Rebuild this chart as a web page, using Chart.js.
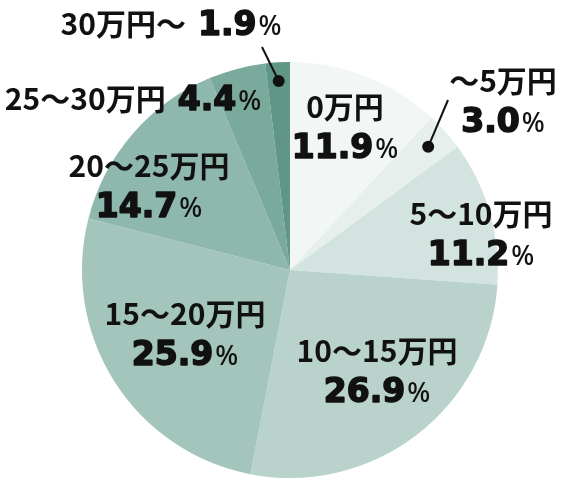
<!DOCTYPE html>
<html>
<head>
<meta charset="utf-8">
<script src="https://cdn.jsdelivr.net/npm/chart.js@4/dist/chart.umd.min.js"></script>
<style>
html,body{margin:0;padding:0;background:#fff;}
#wrap{width:582px;height:480px;position:relative;}
</style>
</head>
<body>
<div id="wrap"><canvas id="c" width="582" height="480"></canvas></div>
<script>
// Data
const categories = ["0万円", "～5万円", "5～10万円", "10～15万円", "15～20万円", "20～25万円", "25～30万円", "30万円～"];
const shares = [11.9, 3.0, 11.2, 26.9, 25.9, 14.7, 4.4, 1.9];
const valueLabels = ["11.9", "3.0", "11.2", "26.9", "25.9", "14.7", "4.4", "1.9"];
const sliceColors = ["#f2f6f5", "#e6efec", "#d3e3df", "#b9d3cc", "#a3c5bc", "#8eb8ad", "#79aa9c", "#5f9686"];

// Label layout: [centerX, baseline of first line, two-line?]
const labelLayout = [
  {x: 345, y: 118, lines: 2},
  {x: 503, y: 92, lines: 2, leader: {x: 448, y: 100, r: 0.89}},
  {x: 481, y: 225, lines: 2},
  {x: 377, y: 362, lines: 2},
  {x: 185, y: 325, lines: 2},
  {x: 149, y: 177, lines: 2},
  {x: 133, y: 110, lines: 1},
  {x: 171, y: 35, lines: 1, leader: {x: 262, y: 47, r: 0.91}}
];

const catFont = '700 30px "Noto Sans CJK JP", "Noto Sans", sans-serif';
const numFont = 'bold 33px "DejaVu Sans", sans-serif';
const pctFont = '500 27px "Noto Sans", "Noto Sans CJK JP", sans-serif';
const LINE_GAP = 40;

function heavyText(ctx, t, x, y) {
  ctx.fillText(t, x, y);
  ctx.lineWidth = 1.6;
  ctx.lineJoin = 'round';
  ctx.strokeText(t, x, y);
}

const labelPlugin = {
  id: 'labels',
  afterDatasetsDraw(chart) {
    const ctx = chart.ctx;
    const meta = chart.getDatasetMeta(0);
    ctx.save();
    ctx.fillStyle = '#111';
    ctx.strokeStyle = '#111';
    ctx.textBaseline = 'alphabetic';
    labelLayout.forEach((L, i) => {
      const cat = categories[i];
      const num = valueLabels[i];
      ctx.font = catFont; const wc = ctx.measureText(cat).width;
      ctx.font = numFont; const wn = ctx.measureText(num).width;
      ctx.font = pctFont; const wp = ctx.measureText('%').width;
      const gapP = 2;
      ctx.textAlign = 'left';
      if (L.lines === 2) {
        ctx.font = catFont;
        ctx.fillText(cat, L.x - wc / 2, L.y);
        const tw = wn + gapP + wp;
        let x0 = L.x - tw / 2;
        ctx.font = numFont; heavyText(ctx, num, x0, L.y + LINE_GAP);
        ctx.font = pctFont; ctx.fillText('%', x0 + wn + gapP, L.y + LINE_GAP);
      } else {
        const sp = 12;
        const tw = wc + sp + wn + gapP + wp;
        let x0 = L.x - tw / 2;
        ctx.font = catFont; ctx.fillText(cat, x0, L.y);
        ctx.font = numFont; heavyText(ctx, num, x0 + wc + sp, L.y);
        ctx.font = pctFont; ctx.fillText('%', x0 + wc + sp + wn + gapP, L.y);
      }
      if (L.leader) {
        const arc = meta.data[i];
        const p = arc.getProps(['x', 'y', 'startAngle', 'endAngle', 'outerRadius'], true);
        const mid = (p.startAngle + p.endAngle) / 2;
        const dx = p.x + Math.cos(mid) * p.outerRadius * L.leader.r;
        const dy = p.y + Math.sin(mid) * p.outerRadius * L.leader.r;
        ctx.lineWidth = 2;
        ctx.beginPath();
        ctx.moveTo(L.leader.x, L.leader.y);
        ctx.lineTo(dx, dy);
        ctx.stroke();
        ctx.beginPath();
        ctx.arc(dx, dy, 6, 0, Math.PI * 2);
        ctx.fill();
      }
    });
    ctx.restore();
  }
};

new Chart(document.getElementById('c'), {
  type: 'pie',
  data: {
    labels: categories,
    datasets: [{
      data: shares,
      backgroundColor: sliceColors,
      borderWidth: 0
    }]
  },
  options: {
    responsive: false,
    animation: false,
    devicePixelRatio: 1,
    layout: {padding: {left: 82, right: 84, top: 62, bottom: 2}},
    plugins: {legend: {display: false}, tooltip: {enabled: false}}
  },
  plugins: [labelPlugin]
});
</script>
</body>
</html>
